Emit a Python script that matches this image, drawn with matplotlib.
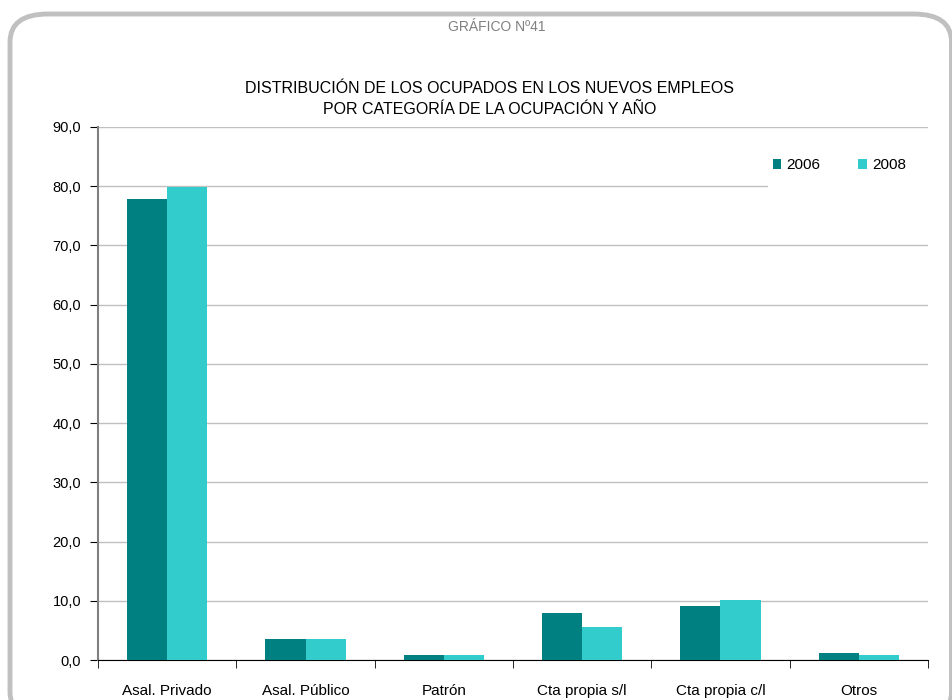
import numpy as np
import matplotlib
matplotlib.use("Agg")
from matplotlib import pyplot as plt
from matplotlib.patches import FancyBboxPatch, Rectangle

plt.rcParams['font.family'] = ['Liberation Sans', 'DejaVu Sans']

categorias = ['Asal. Privado', 'Asal. Público', 'Patrón', 'Cta propia s/l', 'Cta propia c/l', 'Otros']
v2006 = [77.8, 3.5, 0.8, 7.9, 9.2, 1.1]
v2008 = [79.9, 3.5, 0.8, 5.5, 10.2, 0.8]
yticks = [0, 10, 20, 30, 40, 50, 60, 70, 80, 90]

fig = plt.figure(figsize=(9.52, 7.0), dpi=100)

# marco redondeado gris
marco = FancyBboxPatch((10/952, (700-720)/700), 941.5/952, 706/700,
                       boxstyle="round,pad=0,rounding_size=0.04",
                       transform=fig.transFigure, facecolor='none',
                       edgecolor='#c0c0c0', linewidth=3.5, zorder=-1)
fig.patches.append(marco)

ax = fig.add_axes([98/952, 40/700, 830/952, 533/700])
ax.set_facecolor('none')
ax.set_zorder(2)

x = np.arange(len(categorias))
w = 0.29
ax.bar(x - w/2, v2006, w, color='#008080', label='2006', zorder=3)
ax.bar(x + w/2, v2008, w, color='#33CCCC', label='2008', zorder=3)

ax.set_xlim(-0.5, len(categorias) - 0.5)
ax.set_ylim(0, 90)
ax.set_yticks(yticks)
ax.set_yticklabels([f"{v:.1f}".replace('.', ',') for v in yticks], fontsize=10.5)
ax.yaxis.grid(True, color='#c0c0c0', linewidth=1, zorder=0)
ax.set_axisbelow(True)

ax.set_xticks(x)
ax.set_xticklabels(categorias, fontsize=11)
ax.set_xticks(np.arange(len(categorias) + 1) - 0.5, minor=True)
ax.tick_params(axis='x', which='major', length=0, pad=17)
ax.tick_params(axis='x', which='minor', length=6, color='black', direction='out')
ax.tick_params(axis='y', length=6, color='black', pad=6)

for s in ['top', 'right']:
    ax.spines[s].set_visible(False)
ax.spines['left'].set_color('#808080')
ax.spines['left'].set_linewidth(1.5)
ax.spines['bottom'].set_color('black')

# fondo blanco del área de la leyenda (tapa la línea de 80)
ax.add_patch(Rectangle(((768-98)/830, (660-196)/533), 1 - (768-98)/830, 60/533,
                       transform=ax.transAxes, facecolor='white', edgecolor='none',
                       zorder=1))

leg = ax.legend(loc='center right', bbox_to_anchor=(0.994, 0.928), ncol=2,
                frameon=False, fontsize=11, handlelength=0.55, handleheight=0.55,
                handletextpad=0.35, columnspacing=2.5, borderpad=0.6)
leg.set_zorder(5)

fig.text(497/952, 1 - 27/700, 'GRÁFICO Nº41', ha='center', va='center',
         fontsize=10, color='#808080')
fig.text(490/952, 1 - 99/700,
         'DISTRIBUCIÓN DE LOS OCUPADOS EN LOS NUEVOS EMPLEOS\nPOR CATEGORÍA DE LA OCUPACIÓN Y AÑO',
         ha='center', va='center', fontsize=11.5, linespacing=1.45)

fig.savefig('out.png', dpi=100)
